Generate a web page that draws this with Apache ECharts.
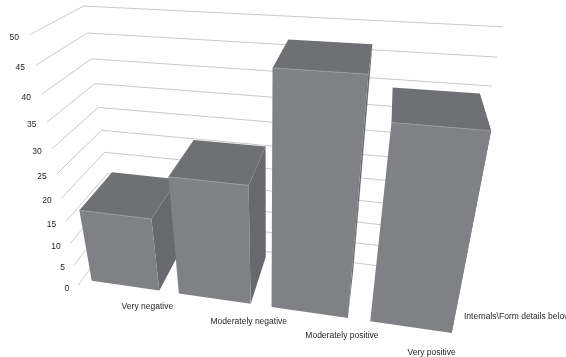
<!DOCTYPE html>
<html><head><meta charset="utf-8">
<style>html,body{margin:0;background:#fff;overflow:hidden}#c{width:566px;height:357px;filter:blur(0.4px)}</style>
<script src="https://cdn.jsdelivr.net/npm/echarts@6/dist/echarts.min.js"></script>
</head><body><div id="c"></div>
<script>
const categories=['Very negative','Moderately negative','Moderately positive','Very positive'];
const values=[16.5,25.7,46.5,39.2];
const ticks=[0,5,10,15,20,25,30,35,40,45,50];
const axisName='Internals\\Form details below';
// layout: label nudges, bar gap and depth inset, and the perspective camera of the 3D scene
const labelShift=[[26,15],[37,17],[34,16],[21,18]];
const g=0.11,d=0.1;
const m=[82.6879,-1.07751,53.5720,78.2140, 4.03323,-5.15741,-21.7886,285.292, -0.0298969,-0.00402844,0.133633];
const P=(u,v,w)=>{const q=m[8]*u+m[9]*v+m[10]*w+1;return [(m[0]*u+m[1]*v+m[2]*w+m[3])/q,(m[4]*u+m[5]*v+m[6]*w+m[7])/q];};
const chart=echarts.init(document.getElementById('c'));
const vOf=(api,p,val)=>{const c=api.coord([0,val]);return (p.coordSys.y+p.coordSys.height-c[1])/p.coordSys.height*50;};
const uOf=(api,p,i)=>{const c=api.coord([i,0]);return (c[0]-p.coordSys.x)/api.size([1,0])[0]-0.5;};
const font='8.5px "Liberation Sans"';
const ink='#1f1f1f';
chart.setOption({animation:false,
grid:{left:0,right:0,top:0,bottom:0},
xAxis:{type:'category',data:categories,show:false},
yAxis:{type:'value',min:0,max:50,interval:5,show:false},
graphic:[{type:'text',left:464,top:312,style:{text:axisName,font,fill:ink}}],
series:[
{type:'custom',clip:false,z:1,data:ticks.map(t=>[0,t]),renderItem(p,api){const v=vOf(api,p,api.value(1));
 const a=P(0,v,0),b=P(0,v,1),c=P(4,v,1);
 return {type:'group',children:[
 {type:'polyline',shape:{points:[a,b,c]},style:{stroke:'#c9c9c9',fill:null,lineWidth:1}},
 {type:'text',style:{text:String(api.value(1)),x:a[0]-9-v*0.05,y:a[1]+3,align:'right',verticalAlign:'middle',font,fill:ink}}]};}},
{type:'custom',clip:false,z:2,data:values.map((x,i)=>[i,x]),renderItem(p,api){const i=api.value(0),v=vOf(api,p,api.value(1));
 const u=uOf(api,p,i),l=u+g,r=u+1-g,n=1-d;
 const poly=(pts,fill)=>({type:'polygon',shape:{points:pts},style:{fill}});
 const lab=P(u+.5,0,0);
 return {type:'group',children:[
 poly([P(r,v,d),P(r,v,n),P(r,0,n),P(r,0,d)],'#68696c'),
 poly([P(l,v,d),P(r,v,d),P(r,v,n),P(l,v,n)],'#6f7073'),
 poly([P(l,v,d),P(r,v,d),P(r,0,d),P(l,0,d)],'#808184'),
 {type:'line',shape:{x1:P(l,v,d)[0],y1:P(l,v,d)[1],x2:P(r,v,d)[0],y2:P(r,v,d)[1]},style:{stroke:'#98999b',lineWidth:1}},
 {type:'text',style:{text:categories[i],x:lab[0]+labelShift[i][0],y:lab[1]+labelShift[i][1],align:'center',verticalAlign:'middle',font,fill:ink}}]};}}
]});
</script></body></html>
